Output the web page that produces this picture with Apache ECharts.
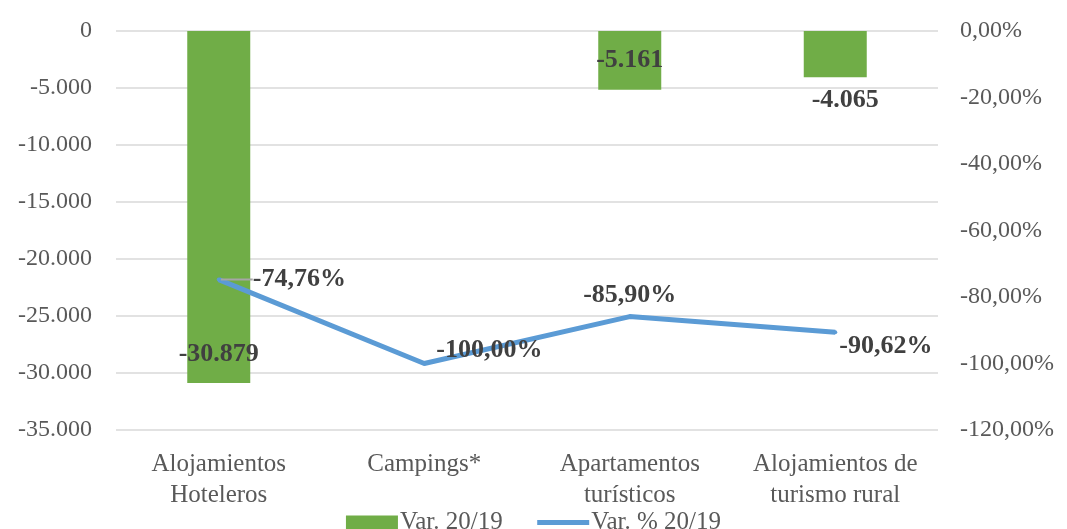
<!DOCTYPE html>
<html>
<head>
<meta charset="utf-8">
<script src="https://cdn.jsdelivr.net/npm/echarts@6/dist/echarts.min.js"></script>
<style>
  html, body { margin: 0; padding: 0; background: #fff; }
  #chart { width: 1067px; height: 529px; }
</style>
</head>
<body>
<div id="chart"></div>
<script>
// categories and values
const categories = ['Alojamientos\nHoteleros', 'Campings*', 'Apartamentos\nturísticos', 'Alojamientos de\nturismo rural'];
const varAbs = [-30879, null, -5161, -4065];      // Var. 20/19
const varPct = [-74.76, -100.00, -85.90, -90.62]; // Var. % 20/19

const FONT = '"Liberation Serif", "DejaVu Serif", serif';
const GREY = '#595959';

const fmtThousands = v => {
  const s = Math.abs(v).toString().replace(/\B(?=(\d{3})+(?!\d))/g, '.');
  return (v < 0 ? '-' : '') + s;
};
const fmtPct = v => v.toFixed(2).replace('.', ',') + '%';

// per-bar label placement (the original places them by hand)
const barLabelPos = [
  { position: 'insideBottom', distance: 16 },
  { position: 'inside' },
  { position: 'inside' },
  { position: 'bottom', distance: 10, offset: [10, 0] }
];
// line labels: base position + shift done in labelLayout
const lineLabelPos = ['right', 'right', 'top', 'right'];
const lineLabelShift = [[26, 0], [4, -13], [0, 0], [-4, 14]];

const dataLabel = {
  show: true,
  color: '#404040',
  fontFamily: FONT,
  fontWeight: 'bold',
  fontSize: 26
};

const chart = echarts.init(document.getElementById('chart'));
chart.setOption({
  animation: false,
  grid: { left: 116, right: 129, top: 31, bottom: 99 },
  legend: {
    top: 505,
    left: 'center',
    itemWidth: 52,
    itemHeight: 14,
    itemGap: 32,
    textStyle: { color: GREY, fontFamily: FONT, fontSize: 25, padding: [0, 0, 0, -3] },
    data: [
      { name: 'Var. 20/19', icon: 'rect' },
      { name: 'Var. % 20/19', itemStyle: { opacity: 0 }, lineStyle: { width: 5 } }
    ]
  },
  xAxis: {
    type: 'category',
    data: categories,
    axisLine: { show: false },
    axisTick: { show: false },
    axisLabel: {
      interval: 0,
      hideOverlap: false,
      color: GREY,
      fontFamily: FONT,
      fontSize: 25,
      lineHeight: 31,
      margin: 19
    }
  },
  yAxis: [
    {
      type: 'value',
      min: -35000,
      max: 0,
      interval: 5000,
      axisLine: { show: false },
      axisTick: { show: false },
      splitLine: { lineStyle: { color: '#d9d9d9', width: 1.5 } },
      axisLabel: {
        color: GREY,
        fontFamily: FONT,
        fontSize: 24,
        margin: 24,
        formatter: fmtThousands
      }
    },
    {
      type: 'value',
      min: -120,
      max: 0,
      interval: 20,
      axisLine: { show: false },
      axisTick: { show: false },
      splitLine: { show: false },
      axisLabel: {
        color: GREY,
        fontFamily: FONT,
        fontSize: 24,
        margin: 22,
        formatter: fmtPct
      }
    }
  ],
  series: [
    {
      name: 'Var. 20/19',
      type: 'bar',
      barWidth: 63,
      itemStyle: { color: '#70ad47' },
      data: varAbs.map((v, i) => ({
        value: v,
        label: Object.assign({}, dataLabel, barLabelPos[i], {
          formatter: p => fmtThousands(p.value)
        })
      }))
    },
    {
      name: 'Var. % 20/19',
      type: 'line',
      yAxisIndex: 1,
      symbol: 'circle',
      symbolSize: 4,
      lineStyle: { color: '#5b9bd5', width: 5 },
      itemStyle: { color: '#5b9bd5' },
      z: 5,
      labelLayout: function (params) {
        const s = lineLabelShift[params.dataIndex];
        return { dx: s[0], dy: s[1] };
      },
      data: varPct.map((v, i) => ({
        value: v,
        labelLine: i === 0 ? { show: true, lineStyle: { color: '#a6a6a6', width: 2 } } : { show: false },
        label: Object.assign({}, dataLabel, {
          position: lineLabelPos[i],
          distance: 6,
          formatter: p => fmtPct(p.value)
        })
      }))
    }
  ]
});
</script>
</body>
</html>
